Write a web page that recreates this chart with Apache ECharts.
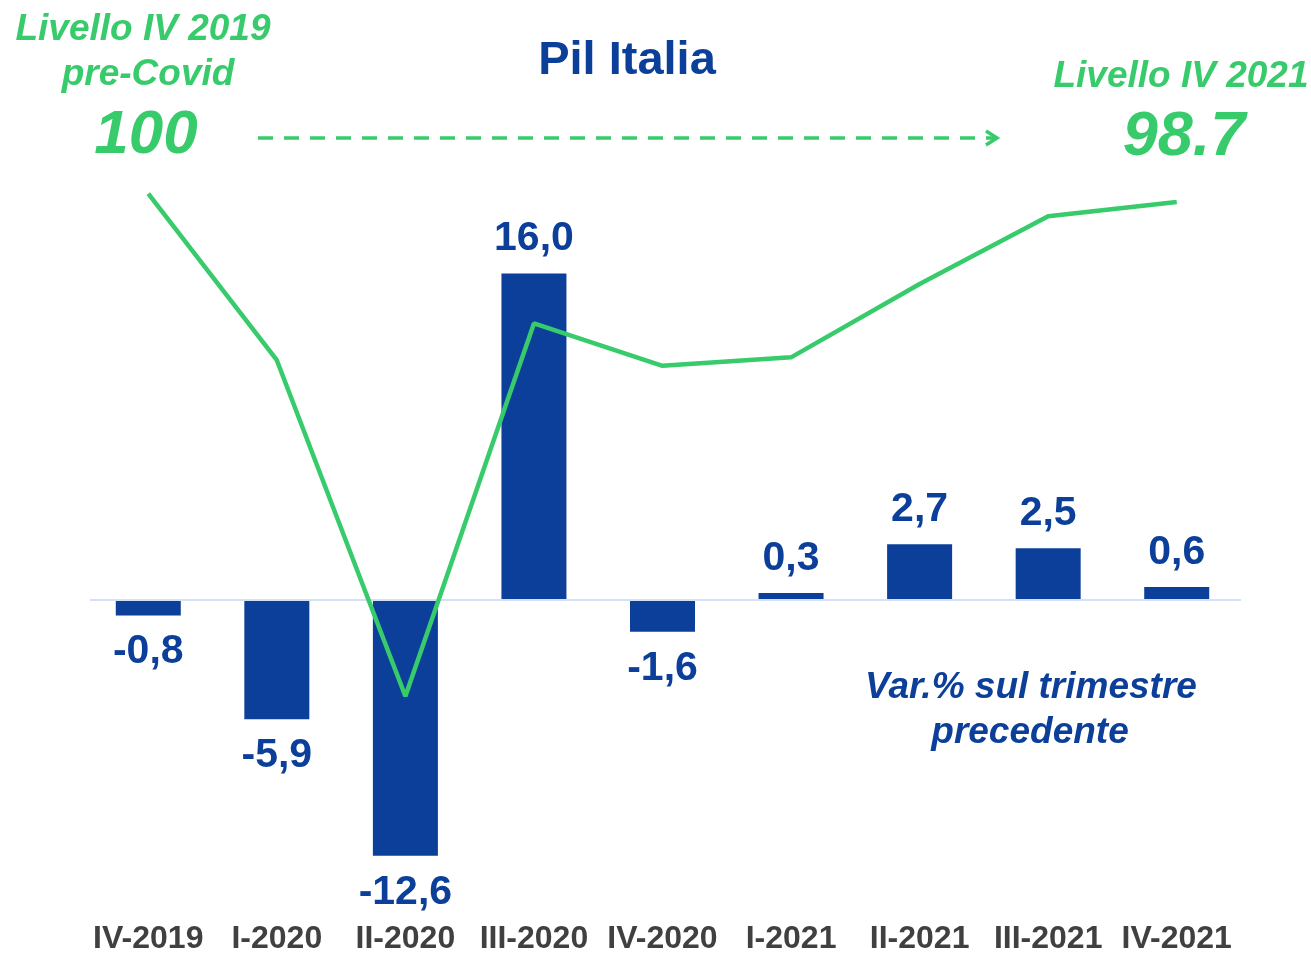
<!DOCTYPE html>
<html>
<head>
<meta charset="utf-8">
<script src="https://cdn.jsdelivr.net/npm/echarts@6/dist/echarts.min.js"></script>
<style>
html,body{margin:0;padding:0;background:#fff;}
#main{width:1311px;height:955px;}
</style>
</head>
<body>
<div id="main"></div>
<script>
// trimestri
var quarters = ['IV-2019','I-2020','II-2020','III-2020','IV-2020','I-2021','II-2021','III-2021','IV-2021'];
// var.% sul trimestre precedente
var qoq = [-0.8, -5.9, -12.6, 16.0, -1.6, 0.3, 2.7, 2.5, 0.6];
// livello del pil (IV 2019 = 100)
var level = [99.9, 94.0, 82.1, 95.3, 93.8, 94.1, 96.7, 99.1, 99.6];

var blue = '#0b3f99';
var green = '#37cb6b';
var font = 'Liberation Sans, Arial, sans-serif';

var barData = [];
for (var i = 0; i < qoq.length; i++) {
	barData.push({
		value: qoq[i],
		label: qoq[i] < 0 ? {position: 'bottom', distance: 16} : {position: 'top', distance: 14}
	});
}

var myChart = echarts.init(document.getElementById('main'));
var option = {
	backgroundColor: '#fff',
	animation: false,
	title: {
		text: 'Pil Italia',
		left: 622,
		top: 33,
		textAlign: 'center',
		textStyle: {color: blue, fontSize: 47, fontWeight: 'bold', fontFamily: font}
	},
	grid: {left: 84, right: 70, top: 151.2, bottom: 28.6},
	xAxis: {
		type: 'category',
		data: quarters,
		axisLine: {show: false, onZero: false},
		axisTick: {show: false},
		axisLabel: {color: '#404040', fontSize: 32, fontWeight: 'bold', fontFamily: font, margin: -2, interval: 0}
	},
	yAxis: [
		{type: 'value', min: -16, max: 22, show: false, splitLine: {show: false}},
		{type: 'value', min: 74, max: 101.4, show: false, splitLine: {show: false}}
	],
	series: [
		{
			name: 'Var.%',
			type: 'bar',
			barWidth: 65,
			itemStyle: {color: blue},
			label: {
				show: true,
				color: blue,
				fontSize: 41,
				fontWeight: 'bold',
				fontFamily: font,
				formatter: function (p) { return p.value.toFixed(1).replace('.', ','); }
			},
			// linea dello zero
			markLine: {
				silent: true,
				symbol: 'none',
				label: {show: false},
				lineStyle: {color: '#d2e0f8', width: 2, type: 'solid'},
				data: [[{x: 90, y: 600}, {x: 1241, y: 600}]]
			},
			data: barData
		},
		{
			name: 'Livello',
			type: 'line',
			yAxisIndex: 1,
			symbol: 'none',
			clip: false,
			lineStyle: {color: green, width: 4.5},
			z: 5,
			data: level
		}
	],
	graphic: [
		{type: 'text', style: {text: 'Livello IV 2019', x: 143, y: 30, textAlign: 'center', textVerticalAlign: 'middle', fill: green, font: 'italic bold 37px ' + font}},
		{type: 'text', style: {text: 'pre-Covid', x: 148, y: 75, textAlign: 'center', textVerticalAlign: 'middle', fill: green, font: 'italic bold 37px ' + font}},
		{type: 'text', style: {text: '100', x: 146, y: 136, textAlign: 'center', textVerticalAlign: 'middle', fill: green, font: 'italic bold 62px ' + font}},
		{type: 'text', style: {text: 'Livello IV 2021', x: 1181, y: 77, textAlign: 'center', textVerticalAlign: 'middle', fill: green, font: 'italic bold 37px ' + font}},
		{type: 'text', style: {text: '98.7', x: 1184, y: 138, textAlign: 'center', textVerticalAlign: 'middle', fill: green, font: 'italic bold 63px ' + font}},
		{type: 'line', shape: {x1: 258, y1: 138, x2: 996, y2: 138}, style: {stroke: green, lineWidth: 3.5, lineDash: [15, 11]}},
		{type: 'polyline', shape: {points: [[986, 131], [997, 138], [986, 145]]}, style: {stroke: green, lineWidth: 3.5, fill: null}},
		{type: 'text', style: {text: 'Var.% sul trimestre', x: 1031, y: 688, textAlign: 'center', textVerticalAlign: 'middle', fill: blue, font: 'italic bold 37px ' + font}},
		{type: 'text', style: {text: 'precedente', x: 1030, y: 733, textAlign: 'center', textVerticalAlign: 'middle', fill: blue, font: 'italic bold 37px ' + font}}
	]
};
myChart.setOption(option);
</script>
</body>
</html>
